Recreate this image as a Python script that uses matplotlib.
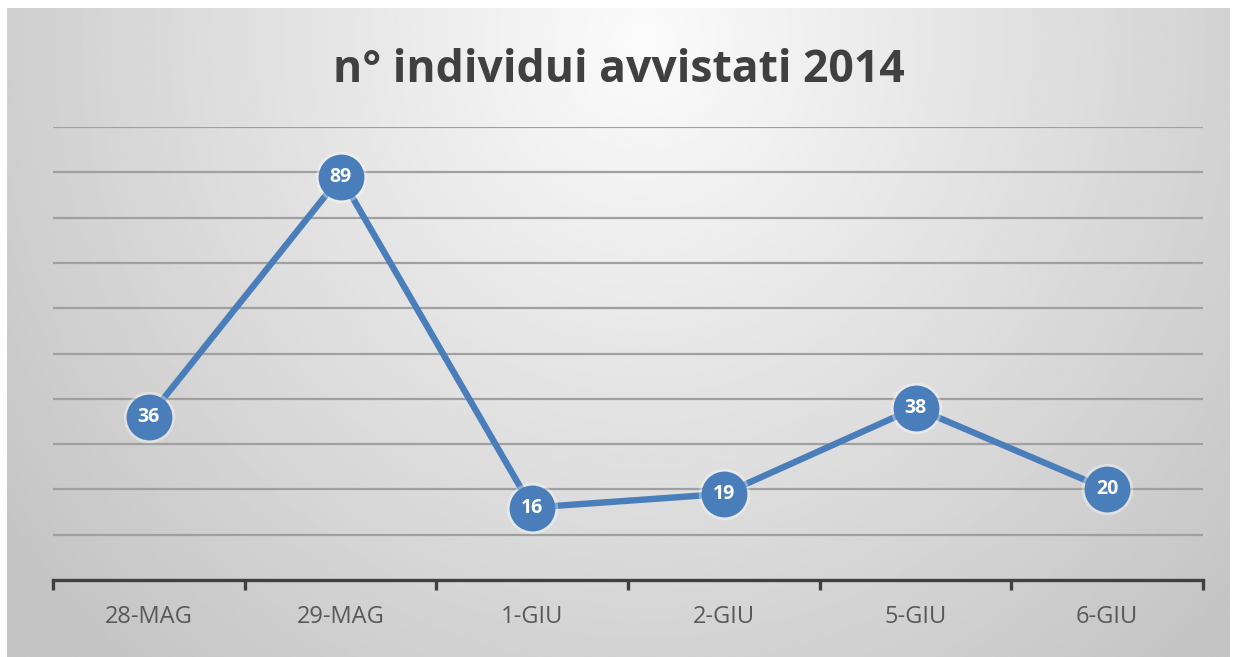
import numpy as np
import matplotlib
matplotlib.use("Agg")
import matplotlib.pyplot as plt

categories = ["28-MAG", "29-MAG", "1-GIU", "2-GIU", "5-GIU", "6-GIU"]
values = [36, 89, 16, 19, 38, 20]
title = "n° individui avvistati 2014"

W, H = 1237, 657
fig = plt.figure(figsize=(W / 100, H / 100), dpi=100)
fig.patch.set_facecolor("white")

# background panel with radial gradient
bg = fig.add_axes([7 / W, 0, (1230 - 7) / W, (657 - 8) / H], zorder=0)
ny, nx = 300, 600
yy, xx = np.mgrid[0:ny, 0:nx]
cx, cy = nx * 0.52, ny * 0.05
r = np.sqrt(((xx - cx) / (nx * 0.6)) ** 2 + ((yy - cy) / (ny * 1.2)) ** 2)
val = np.clip(0.985 - 0.2 * r, 0.77, 1.0)
bg.imshow(val, cmap="gray", vmin=0, vmax=1, aspect="auto", extent=[0, 1, 0, 1],
          interpolation="bilinear")
bg.set_xlim(0, 1)
bg.set_ylim(0, 1)
bg.axis("off")

ax = fig.add_axes([53 / W, (657 - 580) / H, 1150 / W, (580 - 127) / H], zorder=1)
ax.patch.set_alpha(0)
x = np.arange(len(categories))
ax.set_xlim(-0.5, len(categories) - 0.5)
ax.set_ylim(0, 100)
ax.set_yticks(np.arange(10, 101, 10))
ax.yaxis.grid(True, color="#a0a0a0", linewidth=1.6)
ax.set_axisbelow(True)
ax.tick_params(axis="y", left=False, labelleft=False)
for s in ["top", "right", "left"]:
    ax.spines[s].set_visible(False)
ax.spines["bottom"].set_color("#404040")
ax.spines["bottom"].set_linewidth(2.4)
ax.set_xticks(x)
ax.set_xticklabels(categories, fontsize=17, color="#595959", family="Open Sans")
ax.tick_params(axis="x", which="major", length=0, pad=18)
ax.set_xticks(np.arange(-0.5, len(categories), 1), minor=True)
ax.tick_params(axis="x", which="minor", length=7, width=2.4, color="#404040", direction="out")

ax.plot(x, values, color="#4a7ebb", linewidth=4.6, zorder=3, solid_capstyle="round")
ax.plot(x, values, "o", color="white", markersize=37, alpha=0.35, zorder=3.5,
        markeredgewidth=0)
ax.plot(x, values, "o", color="#4a7ebb", markersize=33, zorder=4, markeredgewidth=0)
for xi, v in zip(x, values):
    ax.text(xi, v, str(v), ha="center", va="center", color="white", fontsize=14,
            fontweight="bold", family="Open Sans", zorder=5)

fig.text(0.5, (657 - 70) / H, title, ha="center", va="center", fontsize=32,
         fontweight="bold", color="#404040", family="Open Sans")

fig.savefig("out.png", dpi=100)
